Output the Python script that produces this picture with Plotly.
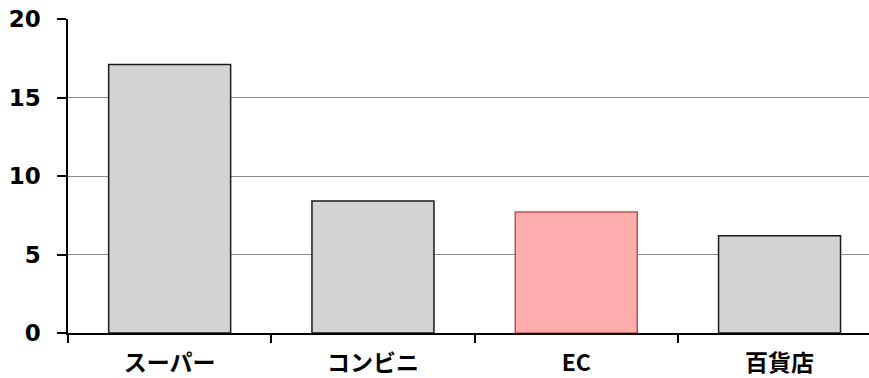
import plotly.graph_objects as go

categories = ["スーパー", "コンビニ", "EC", "百貨店"]
values = [17.1, 8.4, 7.7, 6.2]
fill_colors = ["#d3d3d3", "#d3d3d3", "#ffadad", "#d3d3d3"]
line_colors = ["#1a1a1a", "#1a1a1a", "#c0504d", "#1a1a1a"]
y_ticks = [0, 5, 10, 15, 20]

fig = go.Figure(
    go.Bar(
        x=categories,
        y=values,
        marker=dict(color=fill_colors, line=dict(color=line_colors, width=1.5)),
        width=0.6,
        hoverinfo="skip",
    )
)

fig.update_layout(
    width=869,
    height=378,
    margin=dict(l=68, r=0, t=19, b=45),
    paper_bgcolor="white",
    plot_bgcolor="white",
    showlegend=False,
)

fig.update_yaxes(
    range=[0, 20],
    tickvals=y_ticks,
    showgrid=True,
    gridcolor="#8c8c8c",
    gridwidth=1,
    zeroline=False,
    showline=True,
    linecolor="black",
    linewidth=1.5,
    ticks="outside",
    ticklen=9,
    tickcolor="black",
    tickwidth=1.5,
    ticklabelstandoff=12,
    tickfont=dict(family="DejaVu Sans", size=23, color="black", weight="bold"),
)

fig.update_xaxes(
    type="category",
    range=[-0.5, 3.44],
    showgrid=False,
    showline=True,
    linecolor="black",
    linewidth=1.5,
    ticks="outside",
    tickson="boundaries",
    ticklen=8,
    tickcolor="black",
    tickwidth=1.5,
    ticklabelstandoff=9,
    tickfont=dict(family="Noto Sans CJK JP", size=23, color="black", weight="bold"),
)

fig.write_html("out.html")
